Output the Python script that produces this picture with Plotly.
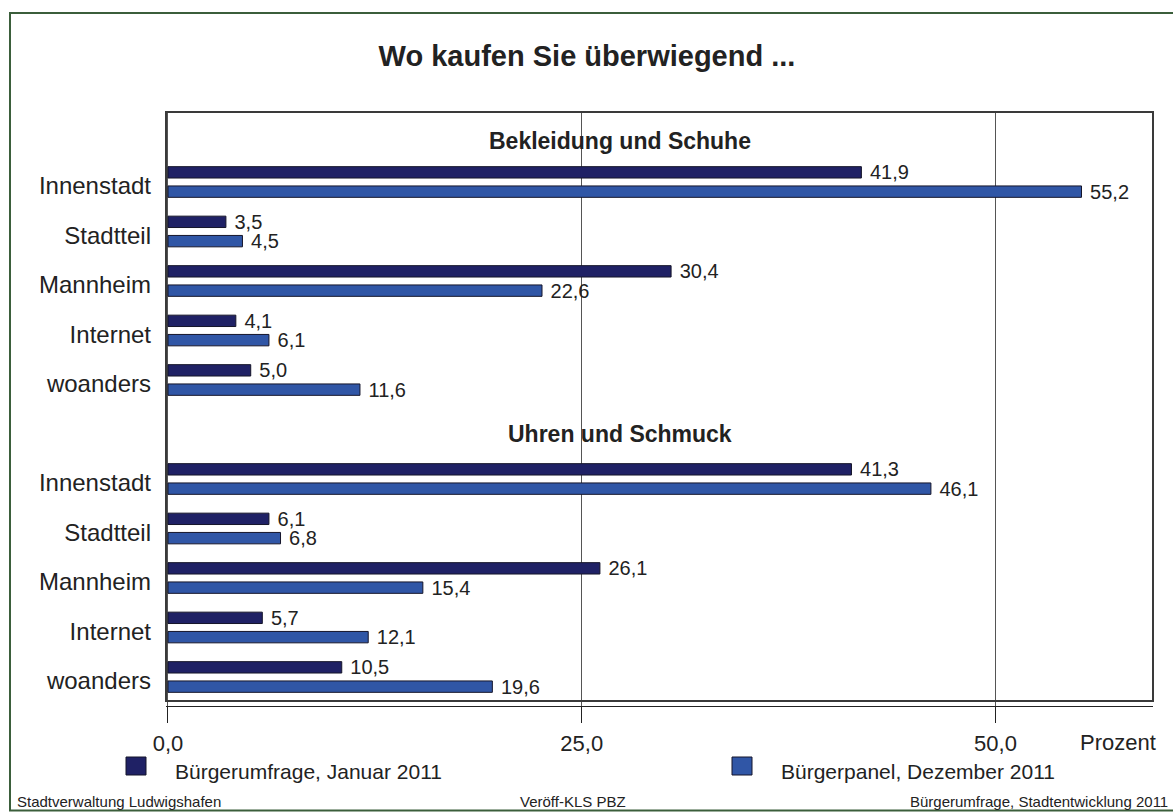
import plotly.graph_objects as go

# ---- data ----
categories = ["Innenstadt", "Stadtteil", "Mannheim", "Internet", "woanders"]
groups = ["Bekleidung und Schuhe", "Uhren und Schmuck"]
series_names = ["Bürgerumfrage, Januar 2011", "Bürgerpanel, Dezember 2011"]
jan_bekleidung = [41.9, 3.5, 30.4, 4.1, 5.0]
dez_bekleidung = [55.2, 4.5, 22.6, 6.1, 11.6]
jan_uhren = [41.3, 6.1, 26.1, 5.7, 10.5]
dez_uhren = [46.1, 6.8, 15.4, 12.1, 19.6]
x_ticks = [0, 25, 50]

# ---- layout helpers ----
W, H = 1173, 812
PL, PR, PT, PB = 166, 1153, 112, 706
FONT = "Liberation Sans, Arial, Helvetica, sans-serif"
TXT = "#222222"
DARK = "#1f2165"
LIGHT = "#3056a6"


def xp(px):
    return (px - PL) / (PR - PL)


def yp(py):
    return (PB - py) / (PB - PT)


# slot positions: header slot, then 5 categories, per group
pos = []
labels = []
for g in range(len(groups)):
    for i, c in enumerate(categories):
        pos.append(g * 6 + 1 + i)
        labels.append(c)

jan = jan_bekleidung + jan_uhren
dez = dez_bekleidung + dez_uhren

fig = go.Figure()
for name, vals, color, off in [(series_names[0], jan, DARK, -0.31),
                               (series_names[1], dez, LIGHT, 0.08)]:
    fig.add_trace(go.Bar(
        x=vals, y=pos, orientation="h", name=name,
        width=0.23, offset=off,
        marker=dict(color=color, line=dict(color="#15152a", width=1)),
        texttemplate="\u00a0%{x:.1f}", textposition="outside", constraintext="none",
        textfont=dict(family=FONT, size=20, color=TXT),
        cliponaxis=False, showlegend=False,
    ))

annotations = []
shapes = []

# group headers
for py, g in zip([141, 434], groups):
    annotations.append(dict(text="<b>%s</b>" % g, x=xp(620), y=yp(py), xref="paper", yref="paper",
                            xanchor="center", yanchor="middle", showarrow=False,
                            font=dict(family=FONT, size=23, color=TXT)))

# "Prozent"
annotations.append(dict(text="Prozent", x=xp(1118), y=yp(742), xref="paper", yref="paper",
                        xanchor="center", yanchor="middle", showarrow=False,
                        font=dict(family=FONT, size=22, color=TXT)))

# custom legend
for (sx, tx), name, color in zip([(126, 173), (732, 779)], series_names, [DARK, LIGHT]):
    shapes.append(dict(type="rect", xref="paper", yref="paper",
                       x0=xp(sx), x1=xp(sx + 20), y0=yp(775), y1=yp(757),
                       fillcolor=color, line=dict(color="#15152a", width=1)))
    annotations.append(dict(text=name, x=xp(tx), y=yp(771), xref="paper", yref="paper",
                            xanchor="left", yanchor="middle", showarrow=False,
                            font=dict(family=FONT, size=21, color=TXT)))

# footer
for fx, anchor, t in [(15, "left", "Stadtverwaltung Ludwigshafen"), (518, "left", "Veröff-KLS PBZ"),
                      (1170, "right", "Bürgerumfrage, Stadtentwicklung 2011")]:
    annotations.append(dict(text=t, x=xp(fx), y=yp(801), xref="paper", yref="paper",
                            xanchor=anchor, yanchor="middle", showarrow=False,
                            font=dict(family=FONT, size=15, color=TXT)))

# plot box (ends a bit above the axis line)
shapes.append(dict(type="rect", xref="paper", yref="paper", x0=0, x1=1, y0=yp(701), y1=1,
                   line=dict(color="#3a3a3a", width=2), layer="above"))
# outer frame
shapes.append(dict(type="rect", xref="paper", yref="paper", x0=xp(10), x1=xp(1190),
                   y0=yp(810.5), y1=yp(13), line=dict(color="#3b5e3b", width=2)))

fig.update_layout(
    width=W, height=H,
    margin=dict(l=PL, r=W - PR, t=PT, b=H - PB, pad=0),
    paper_bgcolor="white", plot_bgcolor="white",
    separators=", ",
    barmode="overlay",
    title=dict(text="<b>Wo kaufen Sie überwiegend ...</b>", x=587 / W, y=1 - 56 / H,
               xanchor="center", yanchor="middle", xref="container",
               font=dict(family=FONT, size=29, color=TXT)),
    xaxis=dict(range=[-0.12, 59.52], tickvals=x_ticks, tickformat=".1f",
               showgrid=True, gridcolor="#555555", gridwidth=1, zeroline=False,
               showline=True, linecolor="#222222", linewidth=1,
               ticks="outside", ticklen=16, tickcolor="#222222", tickwidth=1,
               ticklabelstandoff=2,
               tickfont=dict(family=FONT, size=22, color=TXT)),
    yaxis=dict(range=[11.586, -0.414], tickvals=pos, ticktext=labels,
               showgrid=False, zeroline=False, showline=False, ticks="",
               ticklabelstandoff=14, ticklabelshift=-4,
               tickfont=dict(family=FONT, size=24, color=TXT)),
    annotations=annotations, shapes=shapes,
    showlegend=False,
)

fig.write_html("out.html", config={"displayModeBar": False},
               post_script="document.body.style.margin='0';document.body.style.overflow='hidden';")
